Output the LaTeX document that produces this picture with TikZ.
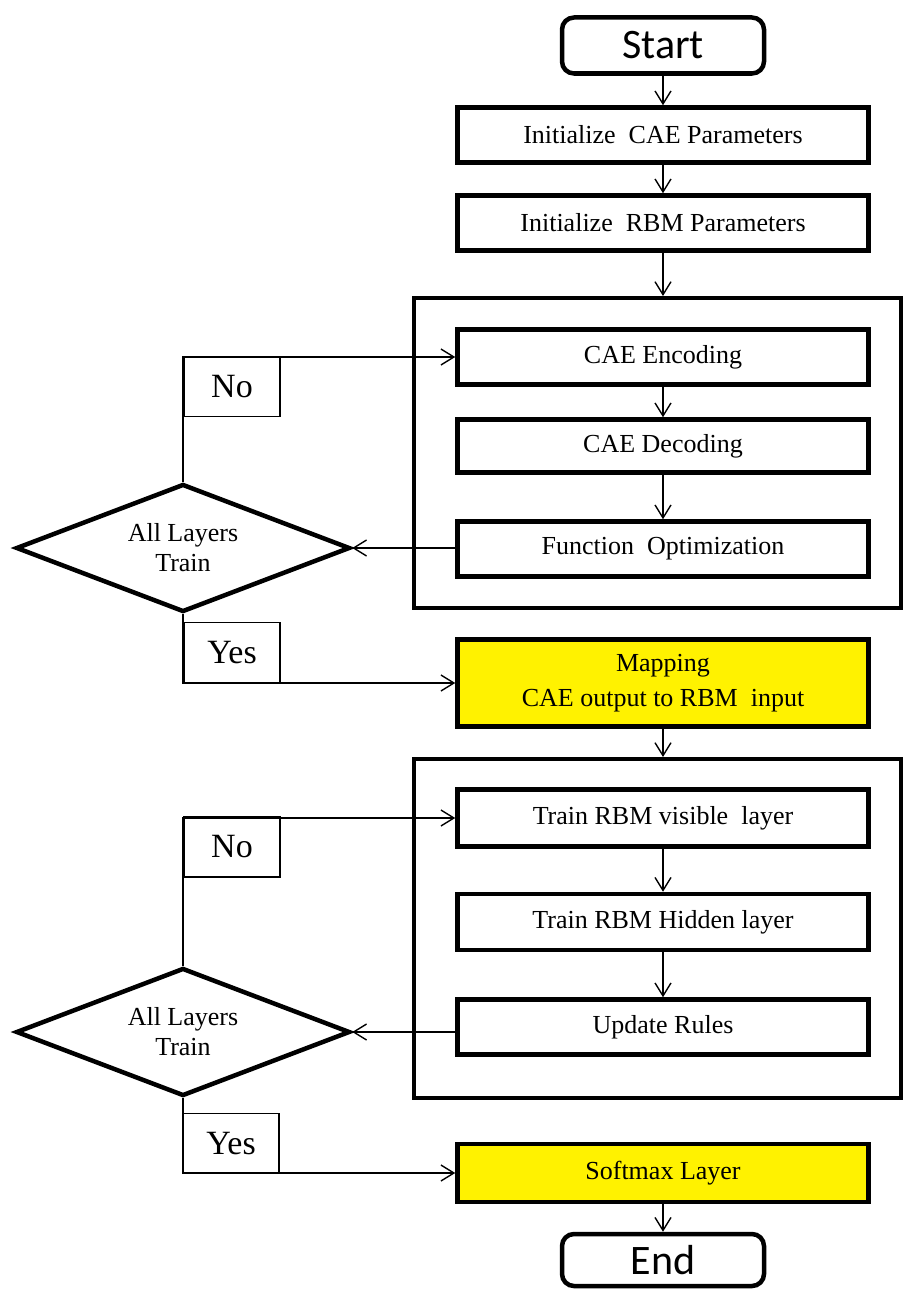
\documentclass[tikz,border=0pt]{standalone}
\usepackage{fontspec}
\setmainfont{Liberation Serif}
\newfontfamily\termfont{Carlito}
\usetikzlibrary{shapes.geometric,arrows.meta}
\begin{document}
\begin{tikzpicture}[x=1pt,y=-1pt,
  box/.style={draw, line width=4.5pt, minimum width=411pt, minimum height=55pt, inner sep=0pt, align=center, font=\fontsize{26}{30}\selectfont},
  hl/.style={box, fill=yellow, font=\fontsize{26}{35}\selectfont},
  term/.style={draw, line width=4.5pt, rounded corners=12pt, minimum width=202pt, minimum height=56pt, inner sep=0pt, font=\termfont\fontsize{42}{48}\selectfont},
  grp/.style={draw, line width=4pt, inner sep=0pt},
  decide/.style={diamond, draw, line width=4.5pt, minimum width=334pt, minimum height=128pt, shape aspect=2.5, inner sep=0pt, align=center, font=\fontsize{26}{30}\selectfont},
  lbl/.style={draw, line width=1.3pt, minimum width=96pt, minimum height=60pt, inner sep=0pt, font=\fontsize{34}{40}\selectfont},
  conn/.style={line width=1.4pt, -{Straight Barb[length=13pt,width=16pt,line width=1.4pt]}},
  wire/.style={line width=1.4pt}
]
\useasboundingbox (0,0) rectangle (906,1290);

% top part
\node[term] (start) at (663,45.5) {Start};
\node[box] (icae) at (663,135) {Initialize\ \ CAE Parameters};
\node[box] (irbm) at (663,223) {Initialize\ \ RBM Parameters};

% group 1
\node[grp, minimum width=487pt, minimum height=310pt] (grp1) at (657.5,453) {};
\node[box] (enc) at (663,357) {CAE Encoding};
\node[box, minimum height=53pt] (decd) at (663,446) {CAE Decoding};
\node[box] (opt) at (663,549) {Function\ \ Optimization};
\node[decide] (dia1) at (183,548) {All Layers\\Train};
\node[lbl] (no1) at (232,386.5) {No};
\node[lbl] (yes1) at (232,652.5) {Yes};

\node[hl, minimum height=87pt] (map) at (663,683) {Mapping\\CAE output to RBM\ \ input};

% group 2
\node[grp, minimum width=487pt, minimum height=339pt] (grp2) at (657.5,928.5) {};
\node[box, minimum height=57pt] (vis) at (663,818) {Train RBM visible\ \ layer};
\node[box, minimum height=56pt] (hid) at (663,922) {Train RBM Hidden layer};
\node[box] (upd) at (663,1027) {Update Rules};
\node[decide] (dia2) at (183,1032) {All Layers\\Train};
\node[lbl] (no2) at (232,847) {No};
\node[lbl] (yes2) at (231,1143.5) {Yes};

\node[hl, minimum height=58pt, font=\fontsize{26}{30}\selectfont] (soft) at (663,1173) {Softmax Layer};
\node[term, minimum height=52pt] (end) at (663,1260) {End};

% connectors
\draw[conn] (start) -- (icae);
\draw[conn] (icae) -- (irbm);
\draw[conn] (irbm.south) -- (irbm.south |- grp1.north);
\draw[conn] (enc) -- (decd);
\draw[conn] (decd) -- (opt);
\draw[conn] (opt.west |- dia1.east) -- (dia1.east);
\draw[conn] (dia1.north) |- (enc.west);
\draw[conn] (dia1.south) |- (map.west);
\draw[conn] (map.south) -- (map.south |- grp2.north);
\draw[conn] (vis) -- (hid);
\draw[conn] (hid) -- (upd);
\draw[conn] (upd.west |- dia2.east) -- (dia2.east);
\draw[conn] (dia2.north) |- (vis.west);
\draw[conn] (dia2.south) |- (soft.west);
\draw[conn] (soft) -- (end);
\end{tikzpicture}
\end{document}
